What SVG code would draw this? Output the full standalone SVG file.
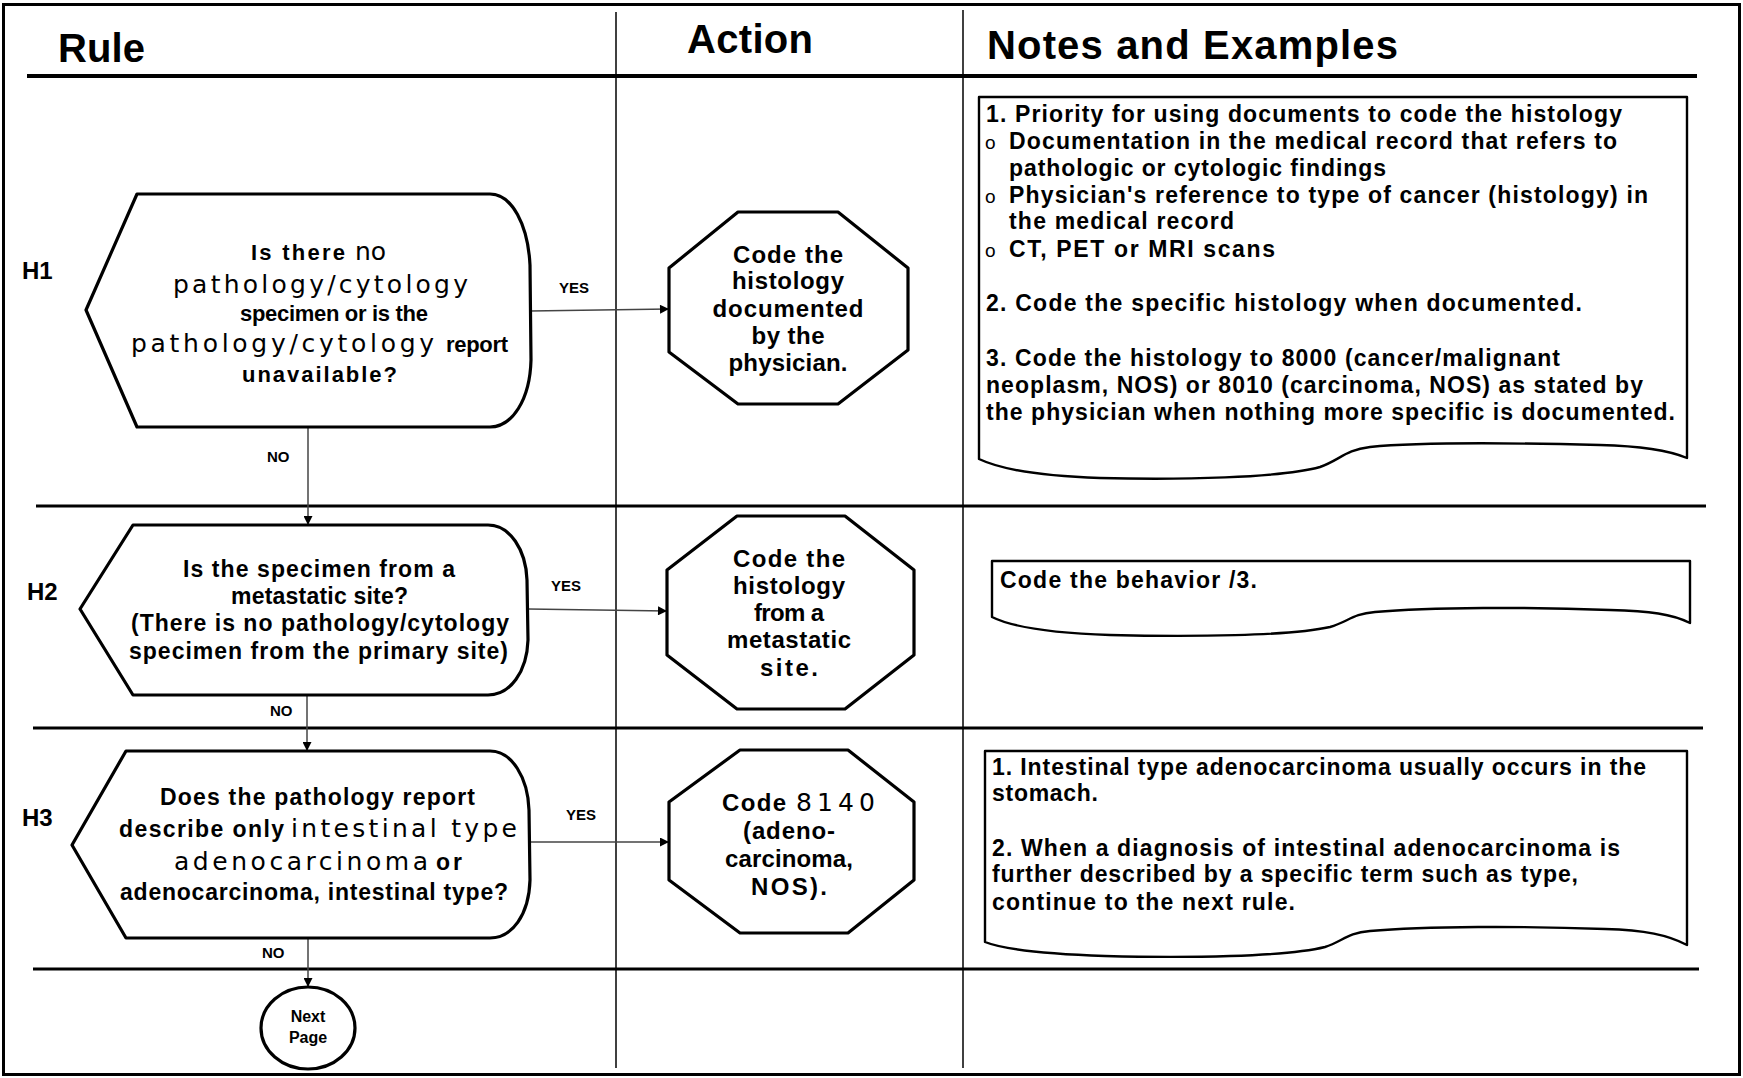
<svg xmlns="http://www.w3.org/2000/svg" width="1743" height="1078" viewBox="0 0 1743 1078">
<defs>
<style>
.t{font-family:"Liberation Sans",Arial,sans-serif;fill:#000}
.b{font-weight:bold;font-size:22px}
.b2{font-weight:bold;font-size:23px}
.w{font-family:"DejaVu Sans","Liberation Sans",sans-serif;font-weight:normal;font-size:25px}
.o{font-weight:bold;font-size:24px}
.n{font-weight:bold;font-size:23px}
.bul{font-weight:normal;font-size:19px}
.hd{font-weight:bold;font-size:40px}
.hl{font-weight:bold;font-size:24px}
.lab{font-weight:bold;font-size:15px}
.np{font-weight:bold;font-size:16px}
.shape{fill:#fff;stroke:#000;stroke-width:3.2;stroke-linejoin:round}
.note{fill:#fff;stroke:#000;stroke-width:2.4;stroke-linejoin:round}
.grid{stroke:#000;fill:none}
.conn{stroke:#444;stroke-width:1.5;fill:none}
</style>
<marker id="ah" viewBox="0 0 10 10" refX="10" refY="5" markerWidth="11" markerHeight="9" markerUnits="userSpaceOnUse" orient="auto">
<path d="M0,0 L10,5 L0,10 Z" fill="#000"/>
</marker>
</defs>
<rect width="1743" height="1078" fill="#fff"/>

<g id="grid">
<rect x="3.5" y="4.5" width="1736" height="1070" class="grid" stroke-width="3"/>
<line x1="27" y1="76" x2="1697" y2="76" class="grid" stroke-width="4"/>
<line x1="616" y1="12" x2="616" y2="1068" class="grid" stroke-width="1.5"/>
<line x1="963" y1="10" x2="963" y2="1068" class="grid" stroke-width="1.5"/>
<line x1="36" y1="506" x2="1706" y2="506" class="grid" stroke-width="3"/>
<line x1="33" y1="728" x2="1703" y2="728" class="grid" stroke-width="3"/>
<line x1="33" y1="969" x2="1699" y2="969" class="grid" stroke-width="3"/>
</g>

<g id="headers">
<text class="t hd" x="58" y="62" textLength="87">Rule</text>
<text class="t hd" x="687" y="53" textLength="126">Action</text>
<text class="t hd" x="987" y="59" textLength="411">Notes and Examples</text>
<text class="t hl" x="22" y="279">H1</text>
<text class="t hl" x="27" y="600">H2</text>
<text class="t hl" x="22" y="826">H3</text>
</g>

<g id="connectors">
<line x1="530" y1="311" x2="669" y2="309" class="conn" marker-end="url(#ah)"/>
<line x1="308" y1="427" x2="308" y2="525" class="conn" marker-end="url(#ah)"/>
<line x1="528" y1="609" x2="667" y2="611" class="conn" marker-end="url(#ah)"/>
<line x1="307" y1="695" x2="307" y2="751" class="conn" marker-end="url(#ah)"/>
<line x1="530" y1="842" x2="669" y2="842" class="conn" marker-end="url(#ah)"/>
<line x1="308" y1="938" x2="308" y2="987" class="conn" marker-end="url(#ah)"/>
<text class="t lab" x="559" y="293">YES</text>
<text class="t lab" x="267" y="462">NO</text>
<text class="t lab" x="551" y="591">YES</text>
<text class="t lab" x="270" y="716">NO</text>
<text class="t lab" x="566" y="820">YES</text>
<text class="t lab" x="262" y="958">NO</text>
</g>

<g id="h1-decision">
<path class="shape" d="M137,194 L490,194 C512,194 528,225 530,265 L531,360 C530,400 512,427 490,427 L137,427 L86,310 Z"/>
<text class="t b" x="251" y="260" textLength="94">Is there</text>
<text class="t w" x="355" y="260" textLength="31">no</text>
<text class="t w" x="173" y="293" textLength="295">pathology/cytology</text>
<text class="t b" x="240" y="321" textLength="188">specimen or is the</text>
<text class="t w" x="131" y="352" textLength="303">pathology/cytology</text>
<text class="t b" x="446" y="352" textLength="62">report</text>
<text class="t b" x="242" y="382" textLength="155">unavailable?</text>
</g>

<g id="h1-action">
<polygon class="shape" points="738,212 838,212 908,268 908,350 838,404 738,404 669,352 669,268"/>
<text class="t o" x="788" y="263" text-anchor="middle" textLength="110">Code the</text>
<text class="t o" x="788" y="289" text-anchor="middle" textLength="112">histology</text>
<text class="t o" x="788" y="317" text-anchor="middle" textLength="151">documented</text>
<text class="t o" x="788" y="344" text-anchor="middle" textLength="73">by the</text>
<text class="t o" x="788" y="371" text-anchor="middle" textLength="119">physician.</text>
</g>

<g id="h1-notes">
<path class="note" d="M979,97 H1687 V458 C1668,450 1640,446 1600,445 C1520,443 1420,442 1370,447 C1345,450 1340,460 1320,467 C1280,478 1180,480 1100,478 C1040,476 1000,469 979,459 Z"/>
<text class="t n" x="986" y="122" textLength="636">1.  Priority for using documents to code the histology</text>
<text class="t bul" x="985" y="149">o</text>
<text class="t n" x="1009" y="149" textLength="608">Documentation in the medical record that refers to</text>
<text class="t n" x="1009" y="176" textLength="377">pathologic or cytologic findings</text>
<text class="t bul" x="985" y="203">o</text>
<text class="t n" x="1009" y="203" textLength="639">Physician's reference to  type of cancer (histology) in</text>
<text class="t n" x="1009" y="229" textLength="225">the medical record</text>
<text class="t bul" x="985" y="257">o</text>
<text class="t n" x="1009" y="257" textLength="266">CT, PET or MRI scans</text>
<text class="t n" x="986" y="311" textLength="596">2.  Code the specific histology when documented.</text>
<text class="t n" x="986" y="366" textLength="574">3.  Code the histology to 8000 (cancer/malignant</text>
<text class="t n" x="986" y="393" textLength="657">neoplasm, NOS) or 8010 (carcinoma, NOS) as stated by</text>
<text class="t n" x="986" y="420" textLength="689">the physician when nothing more specific is documented.</text>
</g>

<g id="h2-decision">
<path class="shape" d="M133,525 L488,525 C510,525 526,550 527,580 L528,640 C527,672 510,695 488,695 L133,695 L80,609 Z"/>
<text class="t b2" x="183" y="577" textLength="272">Is the specimen from a</text>
<text class="t b2" x="231" y="604" textLength="177">metastatic site?</text>
<text class="t b2" x="131" y="631" textLength="378">(There is no pathology/cytology</text>
<text class="t b2" x="129" y="659" textLength="379">specimen from the primary site)</text>
</g>

<g id="h2-action">
<polygon class="shape" points="737,516 845,516 914,570 914,655 845,709 737,709 667,655 667,570"/>
<text class="t o" x="789" y="567" text-anchor="middle" textLength="112">Code the</text>
<text class="t o" x="789" y="594" text-anchor="middle" textLength="112">histology</text>
<text class="t o" x="789" y="621" text-anchor="middle" textLength="70">from a</text>
<text class="t o" x="789" y="648" text-anchor="middle" textLength="124">metastatic</text>
<text class="t o" x="789" y="676" text-anchor="middle" textLength="58">site.</text>
</g>

<g id="h2-notes">
<path class="note" d="M992,561 H1690 V623 C1672,614 1650,611 1610,610 C1530,607 1430,607 1375,612 C1352,614 1348,622 1330,627 C1290,636 1190,637 1110,635 C1050,633 1010,626 992,617 Z"/>
<text class="t n" x="1000" y="588" textLength="257">Code the behavior /3.</text>
</g>

<g id="h3-decision">
<path class="shape" d="M126,751 L490,751 C512,751 528,778 529,810 L530,880 C529,915 512,938 490,938 L126,938 L72,845 Z"/>
<text class="t b2" x="160" y="805" textLength="315">Does the pathology report</text>
<text class="t b2" x="119" y="837" textLength="165">describe only</text>
<text class="t w" x="291" y="837" textLength="226">intestinal type</text>
<text class="t w" x="174" y="870" textLength="254">adenocarcinoma</text>
<text class="t b2" x="436" y="870" textLength="26">or</text>
<text class="t b2" x="120" y="900" textLength="388">adenocarcinoma, intestinal type?</text>
</g>

<g id="h3-action">
<polygon class="shape" points="740,750 848,750 914,802 914,880 848,933 740,933 669,880 669,802"/>
<text class="t o" x="722" y="811" textLength="64">Code</text>
<text class="t w" x="796" y="811" textLength="79">8140</text>
<text class="t o" x="789" y="839" text-anchor="middle" textLength="92">(adeno-</text>
<text class="t o" x="789" y="867" text-anchor="middle" textLength="128">carcinoma,</text>
<text class="t o" x="789" y="895" text-anchor="middle" textLength="76">NOS).</text>
</g>

<g id="h3-notes">
<path class="note" d="M985,751 H1687 V945 C1668,935 1645,930 1605,929 C1525,926 1425,926 1370,931 C1347,933 1343,941 1325,947 C1285,957 1185,958 1105,956 C1045,954 1005,950 985,942 Z"/>
<text class="t n" x="992" y="775" textLength="654">1. Intestinal type adenocarcinoma usually occurs in the</text>
<text class="t n" x="992" y="801" textLength="106">stomach.</text>
<text class="t n" x="992" y="856" textLength="628">2.  When a diagnosis of intestinal adenocarcinoma is</text>
<text class="t n" x="992" y="882" textLength="586">further described by a specific term such as type,</text>
<text class="t n" x="992" y="910" textLength="303">continue to the next rule.</text>
</g>

<g id="next-page">
<ellipse class="shape" cx="308" cy="1028" rx="47" ry="41"/>
<text class="t np" x="308" y="1022" text-anchor="middle">Next</text>
<text class="t np" x="308" y="1043" text-anchor="middle">Page</text>
</g>
</svg>
